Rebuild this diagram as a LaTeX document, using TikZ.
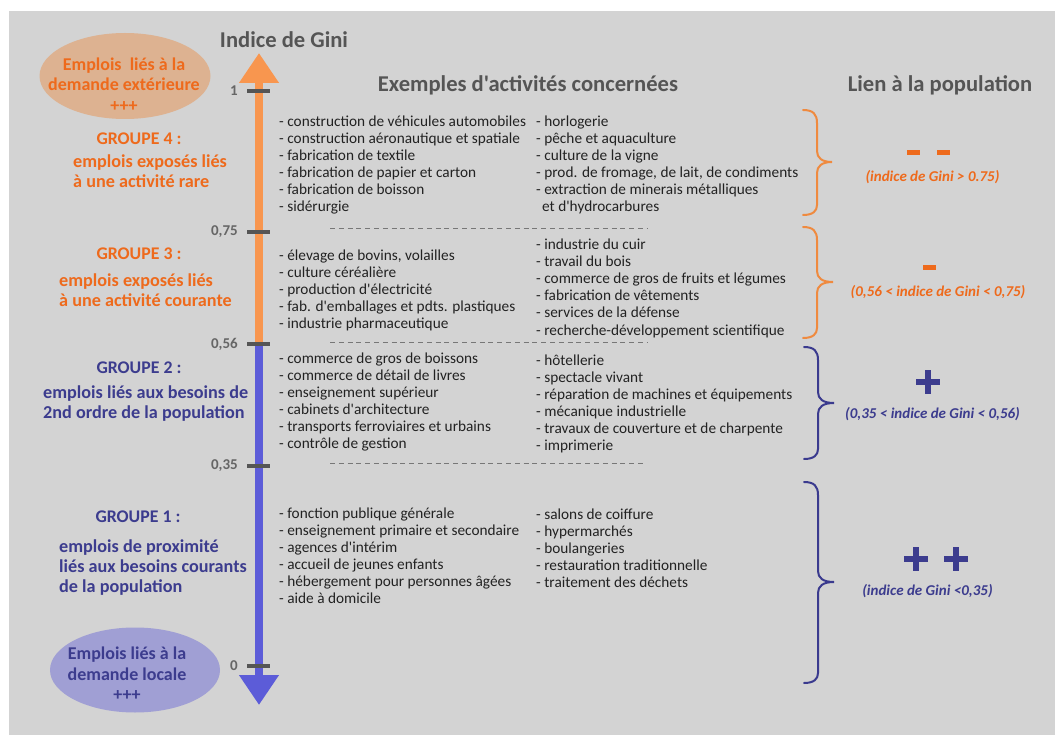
\documentclass[tikz,border=0pt]{standalone}
\usepackage{fontspec}
\setmainfont{Carlito}[Ligatures=TeXOff]
\usetikzlibrary{shapes.geometric,arrows.meta}
\definecolor{panel}{HTML}{D3D3D3}
\definecolor{orangetxt}{HTML}{EE6A1C}
\definecolor{bluetxt}{HTML}{3C3C8E}
\definecolor{orangeaxis}{HTML}{F8964F}
\definecolor{blueaxis}{HTML}{5C5CD8}
\definecolor{orangefill}{HTML}{DDB291}
\definecolor{bluefill}{HTML}{A09FD4}
\definecolor{headgray}{HTML}{555555}
\definecolor{itemtxt}{HTML}{222222}
\definecolor{orangebrace}{HTML}{EF8A3F}
\definecolor{bluebrace}{HTML}{3A3A8E}
\begin{document}
\begin{tikzpicture}[x=1pt,y=-1pt,
  heading/.style={font=\bfseries\fontsize{22.6}{24}\selectfont, text=headgray, inner sep=0},
  item/.style={font=\fontsize{15.3}{17}\selectfont, text=itemtxt, anchor=base west, inner sep=0},
  grouptitle/.style={font=\bfseries\fontsize{17.8}{20}\selectfont, anchor=base, inner sep=0},
  groupline/.style={font=\bfseries\fontsize{18.2}{20}\selectfont, anchor=base west, inner sep=0},
  ticklabel/.style={font=\bfseries\fontsize{15}{16}\selectfont, text=headgray!90, anchor=east, inner sep=0},
  tick/.style={draw=headgray, line width=3.5pt},
  blob/.style={ellipse, inner sep=0, draw=none},
  blobtext/.style={font=\bfseries\fontsize{18}{20.5}\selectfont, align=center, inner sep=0},
  gapline/.style={draw=headgray!80, line width=1.2pt, dash pattern=on 5pt off 3.8pt},
  curly/.style={line width=2pt, line cap=round},
  note/.style={font=\bfseries\itshape\fontsize{15}{16}\selectfont, inner sep=0},
  signbox/.style={inner sep=0}
]
\useasboundingbox (0,0) rectangle (1055,735);
\fill[white] (0,0) rectangle (1055,735);
\fill[panel] (9,11) rectangle (1055,735);

% ---- headings
\node[heading] (gini) at (284,40) {Indice de Gini};
\node[heading] (exemples) at (528,85) {Exemples d'activités concernées};
\node[heading] (lien) at (940,85) {Lien à la population};

% ---- Gini axis
\coordinate (axtop) at (259,53);
\coordinate (axmid) at (259,344);
\coordinate (axbot) at (259,705);
\draw[orangeaxis, line width=8pt, -{Triangle[width=38pt,length=30pt]}] (axmid) -- (axtop);
\draw[blueaxis, line width=8pt, -{Triangle[width=38pt,length=30pt]}] (axmid) -- (axbot);

\foreach \yy/\lab/\nm in {91/1/t1, 232/{0,75}/t75, 344/{0,56}/t56, 466/{0,35}/t35, 666/0/t0}{
  \draw[tick] (247,\yy) -- (270,\yy);
  \node[ticklabel] (\nm) at (238,\yy) {\lab};
}

% ---- demand ellipses
\node[blob, fill=orangefill, minimum width=171pt, minimum height=86pt] (extblob) at (125,76) {};
\node[blobtext, text=orangetxt] (exttext) at (124,84.5) {Emplois\ \ liés à la\\demande extérieure\\+++};
\node[blob, fill=bluefill, minimum width=170pt, minimum height=85pt] (locblob) at (135,670) {};
\node[blobtext, text=bluetxt] (loctext) at (127,674) {Emplois liés à la\\demande locale\\+++};

% ---- group labels
\node[grouptitle, text=orangetxt] (g4) at (139,145) {GROUPE 4 :};
\node[groupline, text=orangetxt] (g4a) at (73,168) {emplois exposés liés};
\node[groupline, text=orangetxt] (g4b) at (73,188) {à une activité rare};

\node[grouptitle, text=orangetxt] (g3) at (139,260) {GROUPE 3 :};
\node[groupline, text=orangetxt] (g3a) at (59,286.5) {emplois exposés liés};
\node[groupline, text=orangetxt] (g3b) at (59,306.5) {à une activité courante};

\node[grouptitle, text=bluetxt] (g2) at (139,373.5) {GROUPE 2 :};
\node[groupline, text=bluetxt] (g2a) at (43,398.5) {emplois liés aux besoins de};
\node[groupline, text=bluetxt] (g2b) at (43,418.5) {2nd ordre de la population};

\node[grouptitle, text=bluetxt] (g1) at (138,522.5) {GROUPE 1 :};
\node[groupline, text=bluetxt] (g1a) at (59,552.5) {emplois de proximité};
\node[groupline, text=bluetxt] (g1b) at (59,572.5) {liés aux besoins courants};
\node[groupline, text=bluetxt] (g1c) at (59,592.5) {de la population};

% ---- activity lists
\foreach \t [count=\i] in {- construction de véhicules automobiles, - construction aéronautique et spatiale,
  - fabrication de textile, - fabrication de papier et carton, - fabrication de boisson, - sidérurgie}
  \node[item, name=a4-\i] at (279,{127+16.9*(\i-1)}) {\t};
\foreach \t [count=\i] in {- horlogerie, - pêche et aquaculture, - culture de la vigne,
  {- prod. de fromage, de lait, de condiments}, - extraction de minerais métalliques}
  \node[item, name=b4-\i] at (536,{127+16.9*(\i-1)}) {\t};
\node[item] (b4-6) at (542,211.5) {et d'hydrocarbures};

\foreach \t [count=\i] in {{- élevage de bovins, volailles}, - culture céréalière, - production d'électricité,
  - fab. d'emballages et pdts. plastiques, - industrie pharmaceutique}
  \node[item, name=a3-\i] at (279,{260.5+17*(\i-1)}) {\t};
\foreach \t [count=\i] in {- industrie du cuir, - travail du bois, - commerce de gros de fruits et légumes,
  - fabrication de vêtements, - services de la défense, - recherche-développement scientifique}
  \node[item, name=b3-\i] at (536,{250+17*(\i-1)}) {\t};

\foreach \t [count=\i] in {- commerce de gros de boissons, - commerce de détail de livres, - enseignement supérieur,
  - cabinets d'architecture, - transports ferroviaires et urbains, - contrôle de gestion}
  \node[item, name=a2-\i] at (279,{363+17*(\i-1)}) {\t};
\foreach \t [count=\i] in {- hôtellerie, - spectacle vivant, - réparation de machines et équipements,
  - mécanique industrielle, - travaux de couverture et de charpente, - imprimerie}
  \node[item, name=b2-\i] at (536,{365+17.1*(\i-1)}) {\t};

\foreach \t [count=\i] in {- fonction publique générale, - enseignement primaire et secondaire, - agences d'intérim,
  - accueil de jeunes enfants, - hébergement pour personnes âgées, - aide à domicile}
  \node[item, name=a1-\i] at (279,{518+17*(\i-1)}) {\t};
\foreach \t [count=\i] in {- salons de coiffure, - hypermarchés, - boulangeries,
  - restauration traditionnelle, - traitement des déchets}
  \node[item, name=b1-\i] at (536,{519+17*(\i-1)}) {\t};

% ---- separators between groups
\draw[gapline] (330,228.5) -- (647,228.5);
\draw[gapline] (330,342.5) -- (647,342.5);
\draw[gapline] (330,463.5) -- (645,463.5);

% ---- curly braces
\draw[curly, orangebrace] (803,110) .. controls (813,110) and (817,114) .. (817,123) -- (817,151)
  .. controls (817,158) and (822,162) .. (832,162) .. controls (822,162) and (817,166) .. (817,173)
  -- (817,205) .. controls (817,211) and (813,215) .. (803,215);
\draw[curly, orangebrace] (803,227) .. controls (813,227) and (817,231) .. (817,240) -- (817,271)
  .. controls (817,278) and (822,282) .. (833,282) .. controls (822,282) and (817,286) .. (817,293)
  -- (817,328) .. controls (817,334) and (813,338) .. (803,338);
\draw[curly, bluebrace] (804,347) .. controls (814,347) and (818,351) .. (818,360) -- (818,392)
  .. controls (818,399) and (823,403) .. (834,403) .. controls (823,403) and (818,407) .. (818,414)
  -- (818,449) .. controls (818,455) and (814,459) .. (804,459);
\draw[curly, bluebrace] (804,482) .. controls (814,482) and (818,486) .. (818,495) -- (818,571)
  .. controls (818,578) and (823,582) .. (834,582) .. controls (823,582) and (818,586) .. (818,593)
  -- (818,673) .. controls (818,679) and (814,683) .. (804,683);

% ---- population link signs
\node[signbox, fill=orangetxt, minimum width=13pt, minimum height=5pt] (m4a) at (913.5,152.5) {};
\node[signbox, fill=orangetxt, minimum width=13pt, minimum height=5pt] (m4b) at (943.5,152.5) {};
\node[note, text=orangetxt] (n4) at (932.5,177) {(indice de Gini > 0.75)};

\node[signbox, fill=orangetxt, minimum width=13pt, minimum height=5pt] (m3) at (929.5,268) {};
\node[note, text=orangetxt] (n3) at (938,292) {(0,56 < indice de Gini < 0,75)};

\node[signbox, fill=bluetxt, minimum width=24pt, minimum height=6pt] (m2h) at (928,381.5) {};
\node[signbox, fill=bluetxt, minimum width=6pt, minimum height=24pt] (m2v) at (928,381.5) {};
\node[note, text=bluetxt] (n2) at (932.5,414) {(0,35 < indice de Gini < 0,56)};

\node[signbox, fill=bluetxt, minimum width=24pt, minimum height=6pt] (m1ah) at (916,559) {};
\node[signbox, fill=bluetxt, minimum width=6pt, minimum height=24pt] (m1av) at (916,559) {};
\node[signbox, fill=bluetxt, minimum width=24pt, minimum height=6pt] (m1bh) at (955.5,559) {};
\node[signbox, fill=bluetxt, minimum width=6pt, minimum height=24pt] (m1bv) at (955.5,559) {};
\node[note, text=bluetxt] (n1) at (927.5,591) {(indice de Gini <0,35)};
\end{tikzpicture}
\end{document}
